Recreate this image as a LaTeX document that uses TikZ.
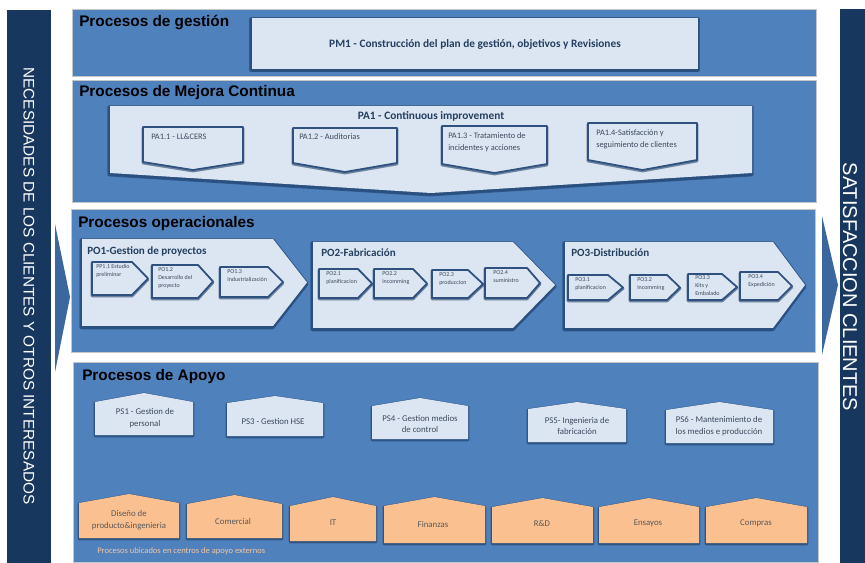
\documentclass[tikz,border=0pt]{standalone}
\usepackage{fontspec}
\setmainfont{Carlito}
\newfontfamily\arialf{Liberation Sans}
\definecolor{navy}{HTML}{17375E}
\definecolor{panelc}{HTML}{4F81BD}
\definecolor{lightc}{HTML}{DCE6F2}
\definecolor{outlc}{HTML}{2E5180}
\definecolor{arrowc}{HTML}{3A679D}
\definecolor{orangec}{HTML}{FAC090}
\definecolor{txtd}{HTML}{243F60}
\definecolor{txts}{HTML}{3C4A5E}
\definecolor{txto}{HTML}{595959}
\definecolor{extc}{HTML}{F5C6A0}
\newcommand{\DnPent}[7]{% shadow, fill, x1, x2, ytop, yside, ypt
  \path[#1, shadowwide] (#3,#5)--(#4,#5)--(#4,#6)--({(#3+#4)/2},#7)--(#3,#6)--cycle;
  \path[#1] (#3,#5)--(#4,#5)--(#4,#6)--({(#3+#4)/2},#7)--(#3,#6)--cycle;
  \path[#2] (#3,#5)--(#4,#5)--(#4,#6)--({(#3+#4)/2},#7)--(#3,#6)--cycle;}
\newcommand{\RChev}[7]{% shadow, fill, x1, xr, xt, yt, yb
  \path[#1, shadowwide] (#3,#6)--(#4,#6)--(#5,{(#6+#7)/2})--(#4,#7)--(#3,#7)--cycle;
  \path[#1] (#3,#6)--(#4,#6)--(#5,{(#6+#7)/2})--(#4,#7)--(#3,#7)--cycle;
  \path[#2] (#3,#6)--(#4,#6)--(#5,{(#6+#7)/2})--(#4,#7)--(#3,#7)--cycle;}
\newcommand{\HouseShape}[7]{% shadow, fill, x1, x2, ypeak, yside, ybot
  \path[#1, shadowwide] (#3,#7)--(#3,#6)--({(#3+#4)/2},#5)--(#4,#6)--(#4,#7)--cycle;
  \path[#1] (#3,#7)--(#3,#6)--({(#3+#4)/2},#5)--(#4,#6)--(#4,#7)--cycle;
  \path[#2] (#3,#7)--(#3,#6)--({(#3+#4)/2},#5)--(#4,#6)--(#4,#7)--cycle;}
\begin{document}
\begin{tikzpicture}[x=0.75pt,y=-0.75pt,
  panelbox/.style={fill=panelc, draw=gray!45, line width=0.6pt},
  shadowwide/.style={line width=+2.2pt, draw opacity=0.22},
  shadowline/.style={draw=navy, draw opacity=0.55, line width=3.2pt, line join=round, shift={(-0.5,1.3)}},
  shadowthin/.style={draw=navy, draw opacity=0.45, line width=2pt, line join=round, shift={(0,1)}},
  shadowor/.style={draw=black, draw opacity=0.15, line width=1.6pt, line join=round, shift={(0,1)}},
  lightfill/.style={fill=lightc},
  subfill/.style={fill=lightc, draw=outlc, line width=1.3pt, line join=round},
  orfill/.style={fill=orangec},
  ttl/.style={font=\arialf\bfseries\fontsize{11.5}{13}\selectfont, text=black, anchor=base west, inner sep=0pt},
  boldlbl/.style={font=\bfseries\fontsize{8.5}{10}\selectfont, text=txtd, inner sep=0pt},
  bigttl/.style={font=\bfseries\fontsize{8.3}{10}\selectfont, text=txtd, anchor=base west, inner sep=0pt},
  palbl/.style={font=\fontsize{6.3}{9}\selectfont, text=txts, align=left, anchor=north west, inner sep=0pt},
  sublbl/.style={font=\fontsize{4.5}{6}\selectfont, text=txts, align=left, anchor=north west, inner sep=0pt},
  pslbl/.style={font=\fontsize{6.6}{8.6}\selectfont, text=txts, align=center, inner sep=0pt},
  orlbl/.style={font=\fontsize{6.6}{8.6}\selectfont, text=txto, align=center, inner sep=0pt},
  sidetxt/.style={font=\arialf, text=white, rotate=-90, inner sep=0pt}
]
\useasboundingbox (0,0) rectangle (865,563);
\fill[white] (0,0) rectangle (865,563);

% side bars
\fill[navy] (7,10) rectangle (51,563);
\fill[navy] (840,9) rectangle (865,563);
\node[sidetxt, font=\arialf\fontsize{11.5}{13}\selectfont] (needs) at (29,286) {NECESIDADES DE LOS CLIENTES Y OTROS INTERESADOS};
\node[sidetxt, font=\arialf\fontsize{15}{17}\selectfont] (satis) at (850,287) {SATISFACCION CLIENTES};
\fill[arrowc] (55,224)--(70,297)--(55,372)--cycle;
\fill[arrowc] (822,216)--(838,285)--(822,355)--cycle;

% panels
\path[panelbox] (72,9) rectangle (816,76);
\path[panelbox] (72,80) rectangle (816,202);
\path[panelbox] (71,209) rectangle (815,352);
\path[panelbox] (73,362) rectangle (818,562);
\node[ttl] (t1) at (79,27) {Procesos de gestión};
\node[ttl] (t2) at (79,97) {Procesos de Mejora Continua};
\node[ttl] (t3) at (78,228) {Procesos operacionales};
\node[ttl] (t4) at (82,380) {Procesos de Apoyo};

% PM1
\path[shadowline, shadowwide] (252,18) rectangle (698,69);
\path[shadowline] (252,18) rectangle (698,69);
\path[lightfill] (252,18) rectangle (698,69);
\node[boldlbl] (pm1) at (475,44) {PM1 - Construcción del plan de gestión, objetivos y Revisiones};

% PA1
\DnPent{shadowline}{lightfill}{110}{752}{106}{173}{193}
\node[boldlbl, anchor=base] (pa1) at (431,120) {PA1 - Continuous improvement};
\DnPent{shadowthin}{subfill}{143}{243}{127}{162}{170}
\DnPent{shadowthin}{subfill}{293}{397}{128}{163}{172}
\DnPent{shadowthin}{subfill}{442}{547}{126}{164}{173}
\DnPent{shadowthin}{subfill}{588}{697}{123}{160}{170}
\node[palbl] (pa11) at (151,133) {PA1.1 - LL\&CERS};
\node[palbl] (pa12) at (299,133) {PA1.2 - Auditorias};
\node[palbl] (pa13) at (448,132) {PA1.3 - Tratamiento de\\incidentes y acciones};
\node[palbl] (pa14) at (596,129.5) {PA1.4-Satisfacción y\\seguimiento de clientes};

% PO chevrons
\RChev{shadowline}{lightfill}{82}{273}{307}{239}{326}
\RChev{shadowline}{lightfill}{313}{513}{555}{242}{328}
\RChev{shadowline}{lightfill}{565}{773}{805}{242}{328}
\node[bigttl] (po1) at (87,255) {PO1-Gestion de proyectos};
\node[bigttl] (po2) at (321,257) {PO2-Fabricación};
\node[bigttl] (po3) at (571,257) {PO3-Distribución};

\RChev{shadowthin}{subfill}{92}{132}{148}{262}{295}
\RChev{shadowthin}{subfill}{152}{198}{213}{265}{298}
\RChev{shadowthin}{subfill}{220}{268}{283}{267}{297}
\RChev{shadowthin}{subfill}{319}{358}{372}{269}{298}
\RChev{shadowthin}{subfill}{374}{413}{427}{269}{298}
\RChev{shadowthin}{subfill}{432}{468}{483}{270}{298}
\RChev{shadowthin}{subfill}{485}{527}{540}{268}{298}
\RChev{shadowthin}{subfill}{568}{608}{623}{275}{300}
\RChev{shadowthin}{subfill}{630}{667}{680}{275}{300}
\RChev{shadowthin}{subfill}{688}{722}{737}{274}{300}
\RChev{shadowthin}{subfill}{740}{778}{792}{272}{300}
\node[sublbl] (pp11) at (96,264.5) {PP1.1 Estudio\\preliminar};
\node[sublbl] (po12) at (158,267) {PO1.2\\Desarrollo del\\proyecto};
\node[sublbl] (po13) at (227,269) {PO1.3\\Industrialización};
\node[sublbl] (po21) at (326,271) {PO2.1\\planificacion};
\node[sublbl] (po22) at (382,271) {PO2.2\\incomming};
\node[sublbl] (po23) at (439,272) {PO2.3\\produccion};
\node[sublbl] (po24) at (493,270) {PO2.4\\suministro};
\node[sublbl] (po31) at (575,277) {PO3.1\\planificacion};
\node[sublbl] (po32) at (637,277) {PO3.2\\incomming};
\node[sublbl] (po33) at (695,275) {PO3.3\\Kits y\\Embalado};
\node[sublbl] (po34) at (748,274) {PO3.4\\Expedición};

% PS
\HouseShape{shadowthin}{lightfill}{95}{193}{393}{402}{435}
\HouseShape{shadowthin}{lightfill}{227}{323}{396}{403}{436}
\HouseShape{shadowthin}{lightfill}{372}{468}{398}{406}{439}
\HouseShape{shadowthin}{lightfill}{528}{626}{402}{409}{442}
\HouseShape{shadowthin}{lightfill}{666}{773}{402}{410}{443}
\node[pslbl] (ps1) at (145,418) {PS1 - Gestion de\\personal};
\node[pslbl] (ps3) at (273,421) {PS3 - Gestion HSE};
\node[pslbl] (ps4) at (420,424) {PS4 - Gestion medios\\de control};
\node[pslbl] (ps5) at (577,426) {PS5- Ingenieria de\\fabricación};
\node[pslbl] (ps6) at (719,426) {PS6 - Mantenimiento de\\los medios e producción};

% orange
\HouseShape{shadowor}{orfill}{79}{179}{494}{503}{538}
\HouseShape{shadowor}{orfill}{187}{282}{495}{504}{538}
\HouseShape{shadowor}{orfill}{290}{376}{497}{506}{541}
\HouseShape{shadowor}{orfill}{384}{485}{497}{506}{543}
\HouseShape{shadowor}{orfill}{492}{593}{498}{507}{543}
\HouseShape{shadowor}{orfill}{599}{699}{498}{507}{543}
\HouseShape{shadowor}{orfill}{706}{807}{498}{507}{543}
\node[orlbl] (dis) at (129,520) {Diseño de\\producto\&ingenieria};
\node[orlbl] (com) at (233,521) {Comercial};
\node[orlbl] (it) at (333,523) {IT};
\node[orlbl] (fin) at (433,525) {Finanzas};
\node[orlbl] (rd) at (542,524) {R\&D};
\node[orlbl] (ens) at (648,523) {Ensayos};
\node[orlbl] (cmp) at (756,523) {Compras};
\node[font=\fontsize{6.4}{8}\selectfont, text=extc, anchor=base west, inner sep=0pt] (ext) at (97,553) {Procesos ubicados en centros de apoyo externos};
\end{tikzpicture}
\end{document}
